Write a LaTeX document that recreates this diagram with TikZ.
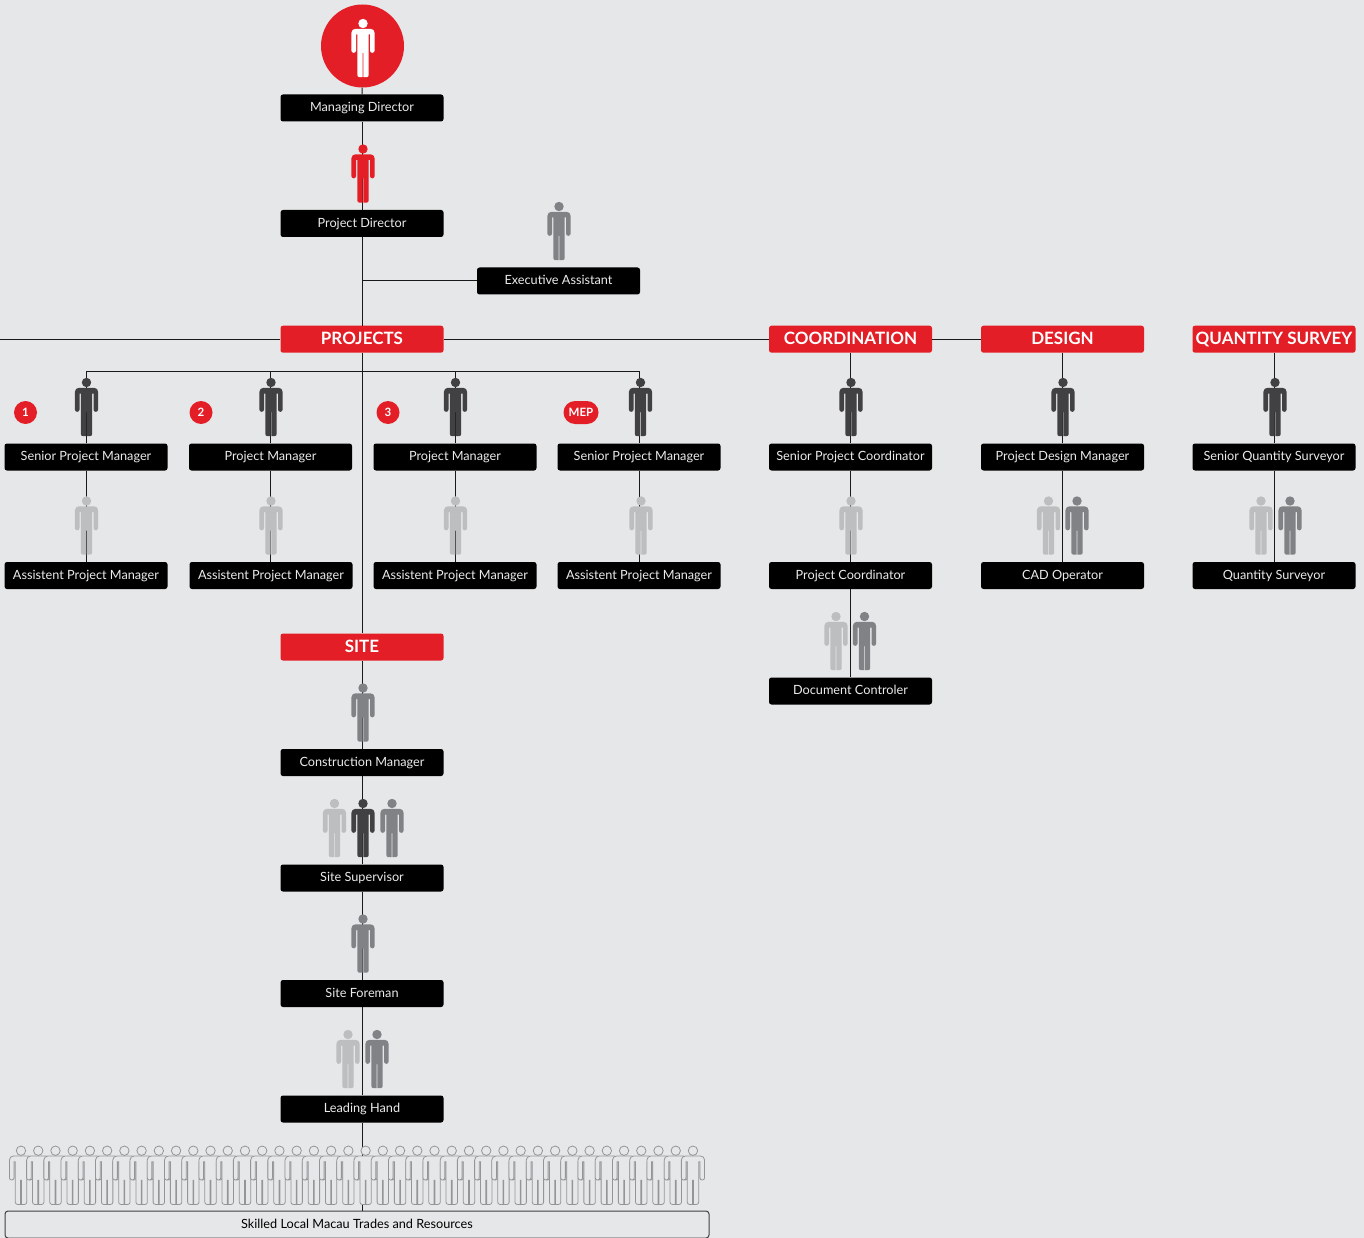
\documentclass[tikz,border=0pt]{standalone}
\usepackage{fontspec}
\setmainfont{Lato}
\usetikzlibrary{positioning, calc}

\definecolor{pagegray}{HTML}{E6E7E8}
\definecolor{brandred}{HTML}{E31E26}
\definecolor{darkstaff}{HTML}{414042}
\definecolor{midstaff}{HTML}{808285}
\definecolor{lightstaff}{HTML}{BCBEC0}
\definecolor{crowdline}{HTML}{939598}

\tikzset{
  person/.pic={
    \path[pic actions] (0,0) circle (4.7);
    \path[pic actions] (0.4,29.5) -- (0.4,53.7) [rounded corners=2.2pt] -- (5.7,53.7) [sharp corners] -- (5.7,11)
      -- (7,11) [rounded corners=2.2pt] -- (7,29.3) -- (11.6,29.3) [rounded corners=4pt] -- (11.6,5.3) -- (-11.6,5.3)
      [rounded corners=2.2pt] -- (-11.6,29.3) -- (-7,29.3) [sharp corners] -- (-7,11) -- (-5.7,11)
      [rounded corners=2.2pt] -- (-5.7,53.7) [sharp corners] -- (-0.4,53.7) -- (-0.4,29.5) -- cycle;
  },
  post/.style={fill=black, text=white!92!black, minimum width=163pt, minimum height=27pt, inner sep=0pt,
    rounded corners=2.5pt, font=\fontsize{12.7}{14}\selectfont, text height=10.2pt, text depth=2.3pt},
  dept/.style={fill=brandred, text=white, minimum width=163pt, minimum height=27pt, inner sep=0pt,
    rounded corners=2.5pt, font=\fontsize{17}{19}\selectfont\bfseries, text height=13pt, text depth=2.5pt},
  badge/.style={circle, fill=brandred, text=white, minimum size=23pt, inner sep=0pt,
    font=\fontsize{11.5}{13}\selectfont\bfseries, text height=8.5pt, text depth=0.5pt},
  link/.style={draw=black!90, line width=1pt}
}
\newcommand{\staff}[3]{\pic[fill=#1] at ($(#2)+(#3,-74.5)$) {person};}

\begin{document}
\begin{tikzpicture}[x=1pt,y=-1pt,node distance=115.5pt]
      \fill[pagegray] (0,0) rectangle (1364,1238);
      \useasboundingbox (0,0) rectangle (1364,1238);

      \node[post] (md) at (362,108) {Managing Director};
      \node[circle, fill=brandred, minimum size=83pt, inner sep=0pt] (md_circle) at (362.5,46) {};
      \node[post, below of=md] (pd) {Project Director};
      \node[post] (ea) at (558.5,281) {Executive Assistant};

      \node[dept] (projects) at (362,339.2) {PROJECTS};
      \node[dept, right of=projects, node distance=488.5pt] (coordination) {COORDINATION};
      \node[dept, right of=coordination, node distance=212pt] (design) {DESIGN};
      \node[dept, right of=design, node distance=211.5pt] (survey) {QUANTITY SURVEY};

      \node[post] (spm_1) at (86,457) {Senior Project Manager};
      \node[post, right of=spm_1, node distance=184.5pt] (pm_2) {Project Manager};
      \node[post, right of=pm_2, node distance=184.5pt] (pm_3) {Project Manager};
      \node[post, right of=pm_3, node distance=184pt] (spm_4) {Senior Project Manager};
      \node[post, below of=spm_1, node distance=118.5pt] (apm_1) {Assistent Project Manager};
      \node[post, below of=pm_2, node distance=118.5pt, xshift=0.5pt] (apm_2) {Assistent Project Manager};
      \node[post, below of=pm_3, node distance=118.5pt] (apm_3) {Assistent Project Manager};
      \node[post, below of=spm_4, node distance=118.5pt] (apm_4) {Assistent Project Manager};

      \node[post] (spc) at (850.5,457) {Senior Project Coordinator};
      \node[post, below of=spc, node distance=118.5pt] (pc) {Project Coordinator};
      \node[post, below of=pc] (dc) {Document Controler};
      \node[post] (pdm) at (1062.5,457) {Project Design Manager};
      \node[post, below of=pdm, node distance=118.5pt] (cad) {CAD Operator};
      \node[post] (sqs) at (1274,457) {Senior Quantity Surveyor};
      \node[post, below of=sqs, node distance=118.5pt] (qsv) {Quantity Surveyor};

      \node[dept] (site) at (362,647) {SITE};
      \node[post, below of=site] (cm) {Construction Manager};
      \node[post, below of=cm] (ss) {Site Supervisor};
      \node[post, below of=ss] (sf) {Site Foreman};
      \node[post, below of=sf] (lh) {Leading Hand};
      \node[draw=darkstaff, line width=1pt, minimum width=704pt, minimum height=27pt, inner sep=0pt, rounded corners=3pt,
        font=\fontsize{12.7}{14}\selectfont, text height=9.5pt, text depth=2.5pt] (skilled) at (357,1224.5) {Skilled Local Macau Trades and Resources};

      \node[badge] (badge_1) at (25.5,412.5) {1};
      \node[badge] (badge_2) at (201,412.5) {2};
      \node[badge] (badge_3) at (388,412.5) {3};
      \node[badge, rounded corners=11.5pt, rectangle, minimum width=35pt, minimum height=23pt] (badge_mep) at (581,412.5) {MEP};

      \coordinate (left_end) at (0,339.2);
      \coordinate (bus) at (362,371.5);

      % main spine
      \draw[link] (md_circle) -- (md);
      \draw[link] (md) -- (pd);
      \draw[link] (pd) -- (projects);
      \draw[link] (projects) -- (site);
      \draw[link] (site) -- (cm);
      \draw[link] (cm) -- (ss);
      \draw[link] (ss) -- (sf);
      \draw[link] (sf) -- (lh);
      \draw[link] (lh.south) -- (lh.south |- skilled.north);
      \draw[link] (ea.west) -- (pd.south |- ea.west);
      \draw[link] (left_end) -- (projects);
      \draw[link] (projects) -- (coordination);
      \draw[link] (coordination) -- (design);

      % project managers
      \draw[link] (spm_1.north) -- (spm_1.north |- bus) -- (spm_4.north |- bus) -- (spm_4.north);
      \draw[link] (pm_2.north) -- (pm_2.north |- bus);
      \draw[link] (pm_3.north) -- (pm_3.north |- bus);
      \draw[link] (spm_1) -- (apm_1);
      \draw[link] (pm_2) -- (pm_2 |- apm_2.north);
      \draw[link] (pm_3) -- (apm_3);
      \draw[link] (spm_4) -- (apm_4);

      % other departments
      \draw[link] (coordination) -- (spc);
      \draw[link] (spc) -- (pc);
      \draw[link] (pc) -- (dc);
      \draw[link] (design) -- (pdm);
      \draw[link] (pdm) -- (cad);
      \draw[link] (survey) -- (sqs);
      \draw[link] (sqs) -- (qsv);

      % people
      \pic[fill=white] at (363,23.5) {person};
      \staff{brandred}{pd}{1}
      \staff{midstaff}{ea}{0.5}
      \staff{darkstaff}{spm_1}{0.5}
      \staff{darkstaff}{pm_2}{0.5}
      \staff{darkstaff}{pm_3}{0.5}
      \staff{darkstaff}{spm_4}{1.5}
      \staff{lightstaff}{apm_1}{0.5}
      \staff{lightstaff}{apm_2}{0}
      \staff{lightstaff}{apm_3}{0.5}
      \staff{lightstaff}{apm_4}{2}
      \staff{darkstaff}{spc}{0.5}
      \staff{lightstaff}{pc}{0.5}
      \staff{lightstaff}{dc}{-14.5}
      \staff{midstaff}{dc}{14}
      \staff{darkstaff}{pdm}{0.5}
      \staff{lightstaff}{cad}{-14}
      \staff{midstaff}{cad}{14.5}
      \staff{darkstaff}{sqs}{1}
      \staff{lightstaff}{qsv}{-13}
      \staff{midstaff}{qsv}{16}
      \staff{midstaff}{cm}{1}
      \staff{lightstaff}{ss}{-27.5}
      \staff{darkstaff}{ss}{1}
      \staff{midstaff}{ss}{30}
      \staff{midstaff}{sf}{1}
      \staff{lightstaff}{lh}{-14}
      \staff{midstaff}{lh}{15}

      % crowd
      \foreach \i in {0,...,39}
        \pic[fill=pagegray, draw=crowdline, line width=0.8pt] at ({21+17.23*\i},1150.7) {person};
\end{tikzpicture}
\end{document}
